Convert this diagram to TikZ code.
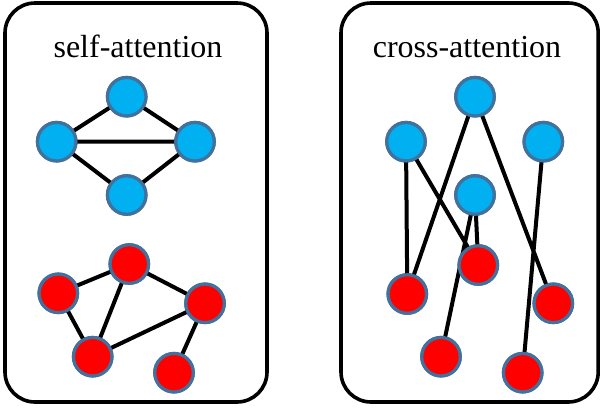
\documentclass[tikz,border=0pt]{standalone}
\usepackage{fontspec}
\setmainfont{Liberation Serif}
\definecolor{nodeblue}{HTML}{00B0F0}
\definecolor{nodered}{HTML}{FF0000}
\definecolor{rimblue}{HTML}{41719C}
\begin{document}
\begin{tikzpicture}[x=1pt,y=-1pt,
  panel/.style={draw=black,line width=3.6pt,rounded corners=30pt},
  bnode/.style={circle,fill=nodeblue,draw=rimblue,line width=3.2pt,minimum size=38.5pt,inner sep=0pt},
  rnode/.style={circle,fill=nodered,draw=rimblue,line width=3.2pt,minimum size=38.5pt,inner sep=0pt},
  edge/.style={draw=black,line width=4pt},
  title/.style={anchor=base,font=\fontsize{32}{38}\selectfont,inner sep=0pt}]
\useasboundingbox (0,0) rectangle (600,410);
\draw[panel] (5,3) rectangle (267,402);
\draw[panel] (341,3) rectangle (598.2,402);
\node[title] (t1) at (138,57) {self-attention};
\node[title] (t2) at (467,57) {cross-attention};
% left nodes
\node[bnode] (lt) at (126.7,96.7) {};
\node[bnode] (ll) at (56.7,141.7) {};
\node[bnode] (lr) at (195,141.7) {};
\node[bnode] (lb) at (126.7,195) {};
\node[rnode] (ra) at (129.3,264) {};
\node[rnode] (rb) at (58.3,293.3) {};
\node[rnode] (rc) at (205,303.3) {};
\node[rnode] (rd) at (92.7,356.7) {};
\node[rnode] (re) at (174,372.7) {};
% right nodes
\node[bnode] (ct) at (475,96.7) {};
\node[bnode] (cl) at (406,141.7) {};
\node[bnode] (cr) at (543.3,141.7) {};
\node[bnode] (cm) at (475,195) {};
\node[rnode] (c1) at (478.3,265) {};
\node[rnode] (c2) at (407.3,294) {};
\node[rnode] (c3) at (553.3,303.3) {};
\node[rnode] (c4) at (441,356.7) {};
\node[rnode] (c5) at (522.7,372.7) {};
% edges (drawn, then nodes redrawn on top)
\path[edge] (lt.center) -- (ll.center) (lt.center) -- (lr.center) (ll.center) -- (lr.center)
  (ll.center) -- (lb.center) (lr.center) -- (lb.center);
\path[edge] (ra.center) -- (rb.center) (ra.center) -- (rc.center) (ra.center) -- (rd.center)
  (rb.center) -- (rd.center) (rd.center) -- (rc.center) (rc.center) -- (re.center);
\path[edge] (cl.center) -- (c2.center) (cl.center) -- (c1.center) (ct.center) -- (c2.center)
  (ct.center) -- (c3.center) (cm.center) -- (c1.center) (cm.center) -- (c4.center)
  (cr.center) -- (c5.center);
% redraw nodes on top
\foreach \n in {lt,ll,lr,lb,ct,cl,cr,cm} \node[bnode] at (\n) {};
\foreach \n in {ra,rb,rc,rd,re,c1,c2,c3,c4,c5} \node[rnode] at (\n) {};
\end{tikzpicture}
\end{document}
